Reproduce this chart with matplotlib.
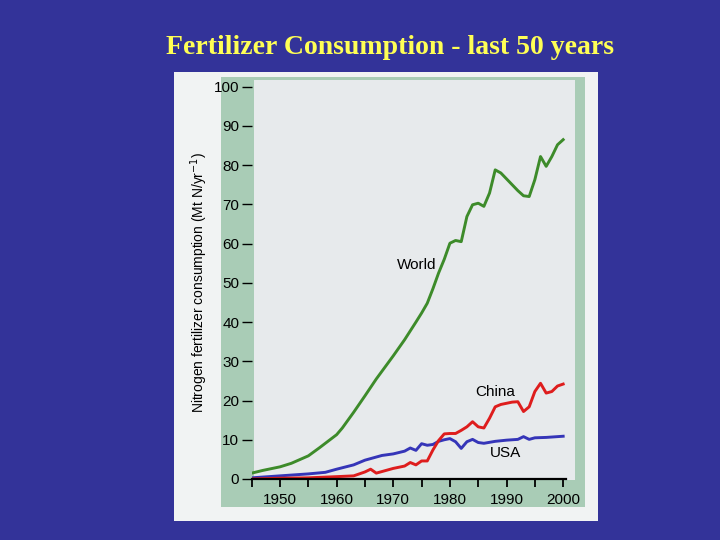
import matplotlib
matplotlib.use("Agg")
import matplotlib.pyplot as plt
from matplotlib.patches import Rectangle

# values (Mt N / yr)
world_years = [1945, 1947, 1950, 1952, 1955, 1957, 1959, 1960, 1961, 1963, 1965, 1967,
               1970, 1972, 1974, 1975, 1976, 1977, 1978, 1979, 1980, 1981, 1982, 1983,
               1984, 1985, 1986, 1987, 1988, 1989, 1990, 1991, 1992, 1993, 1994, 1995,
               1996, 1997, 1998, 1999, 2000]
world_vals = [1.5, 2.2, 3.1, 4.0, 5.9, 8.0, 10.2, 11.3, 13.0, 17.0, 21.2, 25.5,
              31.4, 35.5, 40.0, 42.3, 44.8, 48.5, 52.5, 56.0, 60.1, 60.8, 60.5, 66.9,
              69.9, 70.3, 69.5, 72.9, 78.8, 78.0, 76.5, 75.0, 73.5, 72.2, 72.0, 76.3,
              82.2, 79.7, 82.2, 85.2, 86.5]

china_years = [1945, 1950, 1955, 1960, 1963, 1964, 1965, 1966, 1967, 1968, 1970, 1971,
               1972, 1973, 1974, 1975, 1976, 1977, 1978, 1979, 1980, 1981, 1982, 1983,
               1984, 1985, 1986, 1987, 1988, 1989, 1990, 1991, 1992, 1993, 1994, 1995,
               1996, 1997, 1998, 1999, 2000]
china_vals = [0.0, 0.2, 0.3, 0.6, 0.8, 1.3, 1.8, 2.5, 1.5, 1.9, 2.7, 3.0,
              3.3, 4.2, 3.6, 4.6, 4.6, 7.4, 9.8, 11.5, 11.6, 11.6, 12.4, 13.3,
              14.6, 13.3, 13.0, 15.5, 18.4, 19.0, 19.3, 19.6, 19.7, 17.2, 18.4, 22.3,
              24.4, 21.9, 22.3, 23.7, 24.2]

usa_years = [1945, 1950, 1955, 1958, 1960, 1963, 1965, 1968, 1970, 1972, 1973, 1974,
             1975, 1976, 1977, 1978, 1979, 1980, 1981, 1982, 1983, 1984, 1985, 1986,
             1988, 1990, 1992, 1993, 1994, 1995, 1997, 2000]
usa_vals = [0.3, 0.8, 1.3, 1.7, 2.5, 3.6, 4.8, 6.0, 6.4, 7.1, 7.9, 7.3,
            9.0, 8.6, 8.8, 9.6, 10.0, 10.3, 9.5, 7.8, 9.5, 10.1, 9.3, 9.1,
            9.6, 9.9, 10.1, 10.8, 10.1, 10.5, 10.6, 10.9]

plt.rcParams['font.family'] = ['Liberation Sans', 'DejaVu Sans']

fig = plt.figure(figsize=(7.2, 5.4), dpi=100)
fig.patch.set_facecolor('#333399')

# scanned picture: white frame, green band, light plotting area
def px_rect(x0, y0, x1, y1, color):
    fig.patches.append(Rectangle((x0/720, 1 - y1/540), (x1 - x0)/720, (y1 - y0)/540,
                                 transform=fig.transFigure, facecolor=color,
                                 edgecolor='none', zorder=-5))

px_rect(174, 72, 598, 521, '#f1f3f3')
px_rect(221, 77, 585, 507, '#a9ccb6')
px_rect(254, 80, 575, 480, '#e7eaec')

fig.text(0.541, 0.912, 'Fertilizer Consumption - last 50 years', color='#ffff55',
         fontsize=20, fontweight='bold', family='Liberation Serif',
         ha='center', va='center')

ax = fig.add_axes([251.7/720, 1 - 479/540, (566 - 251.7)/720, (479 - 86.7)/540])
ax.patch.set_alpha(0)

ax.plot(world_years, world_vals, color='#3d8b2a', lw=2.1, solid_joinstyle='round')
ax.plot(usa_years, usa_vals, color='#3535b8', lw=2.1, solid_joinstyle='round')
ax.plot(china_years, china_vals, color='#de1d1d', lw=2.1, solid_joinstyle='round')

ax.text(1974.2, 54.6, 'World', fontsize=11, ha='center', va='center')
ax.text(1988.0, 22.2, 'China', fontsize=11, ha='center', va='center')
ax.text(1989.8, 6.6, 'USA', fontsize=11, ha='center', va='center')

ax.set_xlim(1945, 2000.5)
ax.set_ylim(0, 100)
for s in ['top', 'right', 'left']:
    ax.spines[s].set_visible(False)
ax.spines['bottom'].set_linewidth(1.6)

ax.set_xticks(range(1950, 2001, 10))
ax.set_xticks(range(1945, 2001, 5), minor=True)
ax.set_yticks(range(0, 101, 10))
ax.tick_params(axis='x', which='both', direction='out', length=6, width=1.3, labelsize=11, pad=4)
ax.tick_params(axis='y', direction='out', length=7, width=1.0, labelsize=11, pad=2)

ax.set_ylabel('Nitrogen fertilizer consumption (Mt N/yr$^{-1}$)', fontsize=10, labelpad=3)

fig.savefig('out.png', dpi=100, facecolor=fig.get_facecolor())
